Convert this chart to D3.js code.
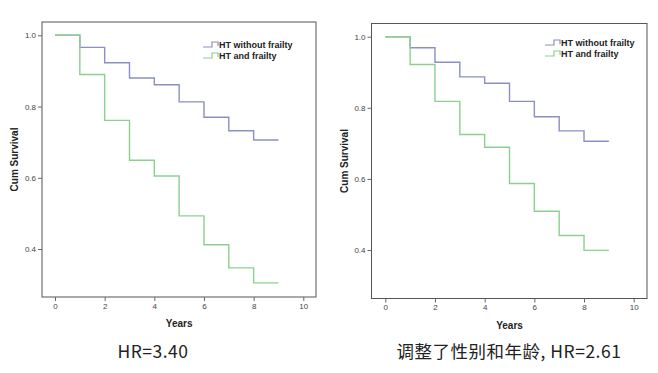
<!DOCTYPE html>
<meta charset="utf-8">
<style>
  body { margin: 0; background: #fff; }
  text { font-family: "Liberation Sans", Arial, sans-serif; }
  .caption { font-family: "Noto Sans CJK SC", "Noto Sans", sans-serif; }
</style>
<body></body>
<script src="https://cdn.jsdelivr.net/npm/d3@7"></script>
<script>
  const width = 658
  const height = 373

  const years = [0, 1, 2, 3, 4, 5, 6, 7, 8, 9]
  const xTicks = [0, 2, 4, 6, 8, 10]
  const yTicks = [0.4, 0.6, 0.8, 1.0]
  const seriesNames = ["HT without frailty", "HT and frailty"]
  const seriesColors = ["#8b8fc2", "#8dcf90"]

  // crude survival, left panel
  const crudeWithout = [1.0, 0.966, 0.923, 0.880, 0.861, 0.813, 0.770, 0.732, 0.706, 0.706]
  const crudeFrailty = [1.0, 0.890, 0.761, 0.649, 0.605, 0.493, 0.412, 0.347, 0.305, 0.305]
  // adjusted for sex and age, right panel
  const adjWithout = [1.0, 0.969, 0.928, 0.887, 0.869, 0.818, 0.775, 0.735, 0.706, 0.706]
  const adjFrailty = [1.0, 0.922, 0.818, 0.725, 0.689, 0.587, 0.509, 0.441, 0.399, 0.399]

  const panels = [
    { left: 42, top: 22, right: 316, bottom: 297, x0: 55, x10: 303.3, y1: 35.3, y04: 249,
      series: [crudeWithout, crudeFrailty], legendX: 203, legendY: 45, caption: "HR=3.40", captionX: 153 },
    { left: 371.5, top: 23.5, right: 647, bottom: 298.5, x0: 385.3, x10: 633.7, y1: 36.7, y04: 250,
      series: [adjWithout, adjFrailty], legendX: 545, legendY: 43, caption: "调整了性别和年龄, HR=2.61", captionX: 509 }
  ]

  const svg = d3.select("body")
    .append("svg")
    .attr("width", width)
    .attr("height", height)

  function renderPanel(p) {
    const g = svg.append("g")

    const x = d3.scaleLinear().domain([0, 10]).range([p.x0, p.x10])
    const y = d3.scaleLinear().domain([0.4, 1.0]).range([p.y04, p.y1])

    // plot frame
    g.append("rect")
      .attr("x", p.left)
      .attr("y", p.top)
      .attr("width", p.right - p.left)
      .attr("height", p.bottom - p.top)
      .attr("fill", "none")
      .attr("stroke", "#555")
      .attr("stroke-width", 1)

    const xAxis = g.append("g")
      .attr("transform", `translate(0,${p.bottom})`)
      .call(d3.axisBottom(x).tickValues(xTicks).tickFormat(d3.format("d")).tickSize(4).tickPadding(2))
    const yAxis = g.append("g")
      .attr("transform", `translate(${p.left},0)`)
      .call(d3.axisLeft(y).tickValues(yTicks).tickFormat(d3.format(".1f")).tickSize(4).tickPadding(2))

    for (const ax of [xAxis, yAxis]) {
      ax.select(".domain").remove()
      ax.selectAll("line").attr("stroke", "#666")
      ax.selectAll("text").attr("fill", "#444").style("font-size", "8px")
    }

    const line = d3.line()
      .x((d, i) => x(years[i]))
      .y(d => y(d))
      .curve(d3.curveStepAfter)

    p.series.forEach((s, i) => {
      g.append("path")
        .datum(s)
        .attr("d", line)
        .attr("fill", "none")
        .attr("stroke", seriesColors[i])
        .attr("stroke-width", 1.4)
    })

    // legend
    seriesNames.forEach((name, i) => {
      const ly = p.legendY + i * 11
      g.append("path")
        .attr("d", `M${p.legendX},${ly + 2}H${p.legendX + 9}V${ly - 3}H${p.legendX + 15}V${ly + 1}`)
        .attr("fill", "none")
        .attr("stroke", seriesColors[i])
        .attr("stroke-width", 1.2)
      g.append("text")
        .attr("x", p.legendX + 16)
        .attr("y", ly + 3)
        .attr("font-size", "9px")
        .attr("font-weight", "bold")
        .attr("fill", "#222")
        .text(name)
    })

    g.append("text")
      .attr("x", (p.x0 + p.x10) / 2)
      .attr("y", p.bottom + 30)
      .attr("text-anchor", "middle")
      .attr("font-size", "10px")
      .attr("font-weight", "bold")
      .attr("fill", "#222")
      .text("Years")

    g.append("text")
      .attr("transform", `translate(${p.left - 24},${(p.top + p.bottom) / 2}) rotate(-90)`)
      .attr("text-anchor", "middle")
      .attr("font-size", "10px")
      .attr("font-weight", "bold")
      .attr("fill", "#222")
      .text("Cum Survival")

    svg.append("text")
      .attr("class", "caption")
      .attr("x", p.captionX)
      .attr("y", 358)
      .attr("text-anchor", "middle")
      .attr("font-size", "17.5px")
      .attr("letter-spacing", "0.5px")
      .attr("fill", "#222")
      .text(p.caption)
  }

  panels.forEach(renderPanel)
</script>
